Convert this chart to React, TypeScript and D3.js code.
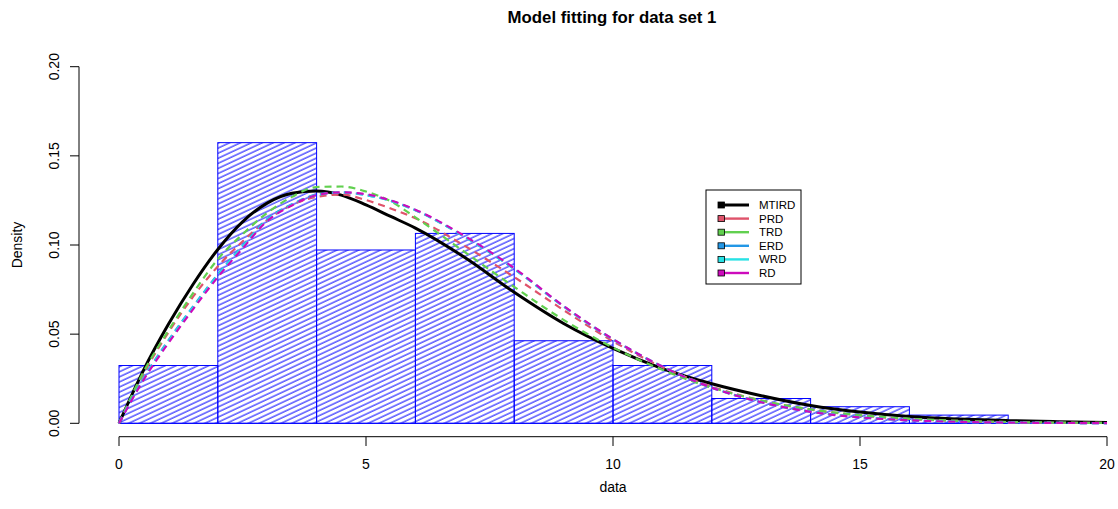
import React from 'react';
import * as d3 from 'd3';

// histogram (density scale), bin width 2
const breaks = [0, 2, 4, 6, 8, 10, 12, 14, 16, 18, 20];
const binDensity = [0.0324, 0.1574, 0.0972, 0.1065, 0.0463, 0.0324, 0.0139, 0.0093, 0.0046, 0];

// fitted curves
const gridX = [0, 0.5, 1, 1.5, 2, 2.5, 3, 3.5, 4, 4.5, 5, 5.5, 6, 7, 8, 9, 10, 11, 12, 13, 14, 15, 16, 17, 18, 19, 20];
const mtird = [0, 0.030, 0.0555, 0.078, 0.0975, 0.113, 0.1235, 0.129, 0.1303, 0.128, 0.1225, 0.116, 0.1095, 0.093, 0.0735, 0.056, 0.042, 0.0307, 0.0222, 0.0155, 0.010, 0.0063, 0.0038, 0.0024, 0.0015, 0.0009, 0.0005];
const prd = [0, 0.028, 0.051, 0.071, 0.088, 0.102, 0.114, 0.1225, 0.127, 0.1283, 0.1252, 0.1205, 0.115, 0.0995, 0.082, 0.0635, 0.046, 0.0315, 0.0205, 0.0128, 0.0077, 0.0044, 0.0024, 0.0013, 0.0007, 0.0003, 0.0002];
const trd = [0, 0.029, 0.052, 0.073, 0.092, 0.106, 0.118, 0.127, 0.1325, 0.1328, 0.130, 0.1245, 0.1155, 0.096, 0.0765, 0.058, 0.0425, 0.030, 0.020, 0.0128, 0.0078, 0.0046, 0.0026, 0.0014, 0.0007, 0.0004, 0.0002];
const erd = [0, 0.0255, 0.0465, 0.0655, 0.0835, 0.0995, 0.1145, 0.1228, 0.1282, 0.1295, 0.128, 0.1248, 0.1195, 0.1045, 0.0865, 0.0655, 0.047, 0.0318, 0.020, 0.0118, 0.0065, 0.0034, 0.0017, 0.0008, 0.0004, 0.0002, 0.0001];
const wrd = [0, 0.0252, 0.046, 0.065, 0.083, 0.099, 0.114, 0.1225, 0.128, 0.1294, 0.128, 0.1247, 0.1195, 0.1046, 0.0866, 0.0656, 0.0471, 0.0318, 0.020, 0.0118, 0.0065, 0.0034, 0.0017, 0.0008, 0.0004, 0.0002, 0.0001];
const rd = [0, 0.0245, 0.045, 0.064, 0.082, 0.098, 0.1135, 0.1222, 0.128, 0.1295, 0.1285, 0.125, 0.1198, 0.105, 0.087, 0.0658, 0.0472, 0.0318, 0.020, 0.0118, 0.0064, 0.0033, 0.0017, 0.0008, 0.0004, 0.0002, 0.0001];

const seriesNames = ['MTIRD', 'PRD', 'TRD', 'ERD', 'WRD', 'RD'];
const seriesValues = [mtird, prd, trd, erd, wrd, rd];
const seriesColors = ['#000000', '#DF536B', '#61D04F', '#2297E6', '#28E2E5', '#CD0BBC'];

const xTicks = [0, 5, 10, 15, 20];
const yTicks = [0, 0.05, 0.1, 0.15, 0.2];

const W = 1118;
const H = 509;
const font = 'Liberation Sans, Arial, Helvetica, sans-serif';

export default function App() {
  const x = d3.scaleLinear().domain([0, 20]).range([119, 1107]);
  const y = d3.scaleLinear().domain([0, 0.2]).range([423.3, 66.7]);

  const line = d3
    .line<number>()
    .x((_, i) => x(gridX[i]))
    .y((d) => y(d))
    .curve(d3.curveMonotoneX);

  const legX = 706;
  const legY = 190;
  const rowH = 13.6;

  return (
    <svg
      width={W}
      height={H}
      style={{position: 'absolute', left: 0, top: 0, background: '#fff'}}
      fontFamily={font}>
      <defs>
        <pattern
          id="hatch"
          patternUnits="userSpaceOnUse"
          width={12}
          height={4.6}
          patternTransform="rotate(-25)">
          <line x1={0} y1={1} x2={12} y2={1} stroke="#0000FF" strokeWidth={1} />
        </pattern>
      </defs>

      <text x={612} y={23} textAnchor="middle" fontWeight="bold" fontSize={16.8}>
        Model fitting for data set 1
      </text>

      {/* histogram */}
      {binDensity.map((d, i) =>
        d > 0 ? (
          <g key={i}>
            <rect
              x={x(breaks[i])}
              y={y(d)}
              width={x(breaks[i + 1]) - x(breaks[i])}
              height={y(0) - y(d)}
              fill="url(#hatch)"
            />
            <rect
              x={x(breaks[i])}
              y={y(d)}
              width={x(breaks[i + 1]) - x(breaks[i])}
              height={y(0) - y(d)}
              fill="none"
              stroke="#0000FF"
              strokeWidth={1}
            />
          </g>
        ) : null
      )}
      <line x1={x(0)} x2={x(20)} y1={y(0)} y2={y(0)} stroke="#0000FF" strokeWidth={1} />

      {/* fitted densities */}
      {seriesValues.map((vals, k) => (
        <path
          key={seriesNames[k]}
          d={line(vals) || ''}
          fill="none"
          stroke={seriesColors[k]}
          strokeWidth={k === 0 ? 3 : 2.2}
          strokeDasharray={k === 0 ? undefined : '7,5'}
        />
      ))}

      {/* x axis */}
      <line x1={x(0)} x2={x(20)} y1={436.7} y2={436.7} stroke="#000" />
      {xTicks.map((t) => (
        <g key={t}>
          <line x1={x(t)} x2={x(t)} y1={436.7} y2={446} stroke="#000" />
          <text x={x(t)} y={469} textAnchor="middle" fontSize={14}>
            {t}
          </text>
        </g>
      ))}
      <text x={613} y={492} textAnchor="middle" fontSize={14}>
        data
      </text>

      {/* y axis */}
      <line x1={79} x2={79} y1={y(0)} y2={y(0.2)} stroke="#000" />
      {yTicks.map((t) => (
        <g key={t}>
          <line x1={70} x2={79} y1={y(t)} y2={y(t)} stroke="#000" />
          <text
            transform={`translate(58.5,${y(t)}) rotate(-90)`}
            textAnchor="middle"
            fontSize={14}>
            {d3.format('.2f')(t)}
          </text>
        </g>
      ))}
      <text transform="translate(22,245) rotate(-90)" textAnchor="middle" fontSize={14}>
        Density
      </text>

      {/* legend */}
      <rect x={legX} y={legY} width={95} height={94} fill="#fff" stroke="#000" />
      {seriesNames.map((name, k) => {
        const cy = legY + 15 + k * rowH;
        return (
          <g key={name}>
            <line x1={721} x2={749} y1={cy} y2={cy} stroke={seriesColors[k]} strokeWidth={k === 0 ? 3 : 2.4} />
            <rect x={718} y={cy - 3} width={6.5} height={6} fill={seriesColors[k]} stroke="#000" strokeWidth={0.8} />
            <text x={759} y={cy + 4} fontSize={11.5}>
              {name}
            </text>
          </g>
        );
      })}
    </svg>
  );
}
